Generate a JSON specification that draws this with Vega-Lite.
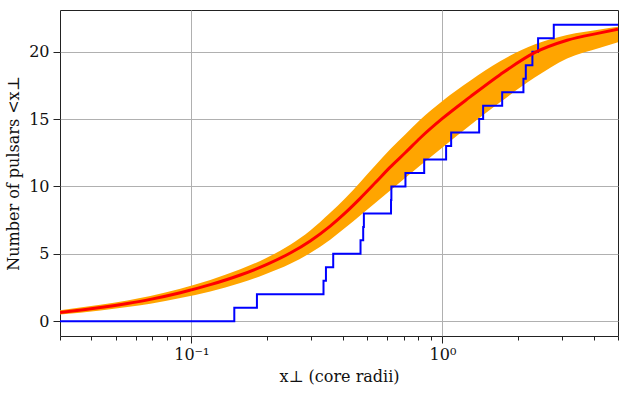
{
  "$schema": "https://vega.github.io/schema/vega-lite/v6.json",
  "width": 558,
  "height": 326,
  "autosize": "none",
  "padding": {"left": 60, "top": 10, "right": 10, "bottom": 57},
  "background": "white",
  "config": {
    "view": {"stroke": "#222", "strokeWidth": 1},
    "font": "DejaVu Serif",
    "axis": {
      "labelFont": "DejaVu Serif",
      "titleFont": "DejaVu Serif",
      "labelFontSize": 16,
      "titleFontSize": 16,
      "titleFontWeight": "normal",
      "labelColor": "#111",
      "titleColor": "#111",
      "domain": false,
      "tickColor": "#222",
      "gridColor": "#b0b0b0",
      "gridWidth": 1
    }
  },
  "datasets": {
    "curve": [
      {"x": 0.03, "lo": 0.5, "mid": 0.65, "hi": 0.82},
      {"x": 0.04343, "lo": 0.8, "mid": 1.02, "hi": 1.22},
      {"x": 0.05564, "lo": 1.05, "mid": 1.32, "hi": 1.54},
      {"x": 0.06867, "lo": 1.29, "mid": 1.62, "hi": 1.87},
      {"x": 0.09042, "lo": 1.73, "mid": 2.11, "hi": 2.41},
      {"x": 0.119, "lo": 2.21, "mid": 2.71, "hi": 3.06},
      {"x": 0.1567, "lo": 2.83, "mid": 3.43, "hi": 3.85},
      {"x": 0.197, "lo": 3.48, "mid": 4.16, "hi": 4.66},
      {"x": 0.2477, "lo": 4.26, "mid": 5.06, "hi": 5.68},
      {"x": 0.2976, "lo": 5.06, "mid": 5.96, "hi": 6.74},
      {"x": 0.3573, "lo": 6.05, "mid": 7.06, "hi": 8.05},
      {"x": 0.4101, "lo": 6.93, "mid": 8.04, "hi": 9.12},
      {"x": 0.4704, "lo": 7.85, "mid": 9.12, "hi": 10.32},
      {"x": 0.5398, "lo": 8.77, "mid": 10.27, "hi": 11.55},
      {"x": 0.6193, "lo": 9.7, "mid": 11.44, "hi": 12.77},
      {"x": 0.7106, "lo": 10.63, "mid": 12.5, "hi": 13.85},
      {"x": 0.8153, "lo": 11.55, "mid": 13.6, "hi": 14.95},
      {"x": 1.0, "lo": 12.9, "mid": 15.05, "hi": 16.35},
      {"x": 1.289, "lo": 14.55, "mid": 16.65, "hi": 17.85},
      {"x": 1.696, "lo": 16.25, "mid": 18.3, "hi": 19.3},
      {"x": 2.338, "lo": 18.1, "mid": 19.95, "hi": 20.55},
      {"x": 3.135, "lo": 19.5, "mid": 20.85, "hi": 21.25},
      {"x": 4.242, "lo": 20.3, "mid": 21.4, "hi": 21.65},
      {"x": 5.0, "lo": 20.7, "mid": 21.67, "hi": 21.85}
    ],
    "steps": [
      {"x": 0.03, "n": 0},
      {"x": 0.1483, "n": 1},
      {"x": 0.1825, "n": 2},
      {"x": 0.336, "n": 3},
      {"x": 0.3436, "n": 4},
      {"x": 0.3673, "n": 5},
      {"x": 0.4718, "n": 6},
      {"x": 0.4835, "n": 7},
      {"x": 0.4865, "n": 8},
      {"x": 0.624, "n": 9},
      {"x": 0.626, "n": 10},
      {"x": 0.7123, "n": 11},
      {"x": 0.8458, "n": 12},
      {"x": 1.034, "n": 13},
      {"x": 1.083, "n": 14},
      {"x": 1.4, "n": 15},
      {"x": 1.452, "n": 16},
      {"x": 1.729, "n": 17},
      {"x": 2.101, "n": 18},
      {"x": 2.147, "n": 19},
      {"x": 2.281, "n": 20},
      {"x": 2.403, "n": 21},
      {"x": 2.775, "n": 22},
      {"x": 5.0, "n": 22}
    ]
  },
  "layer": [
    {
      "data": {"name": "curve"},
      "mark": {"type": "area", "color": "#FFA500", "interpolate": "monotone", "clip": true},
      "encoding": {
        "x": {
          "field": "x", "type": "quantitative",
          "scale": {"type": "log", "domain": [0.03, 5], "nice": false},
          "axis": {
            "title": "x⊥ (core radii)",
            "titlePadding": 6,
            "values": [0.03, 0.04, 0.05, 0.06, 0.07, 0.08, 0.09, 0.1, 0.2, 0.3, 0.4, 0.5, 0.6, 0.7, 0.8, 0.9, 1, 2, 3, 4, 5],
            "labelExpr": "datum.value == 0.1 ? '10⁻¹' : (datum.value == 1 ? '10⁰' : '')",
            "labelPadding": 3,
            "tickSize": {"condition": {"test": "datum.value == 0.1 || datum.value == 1", "value": 7}, "value": 4},
            "gridOpacity": {"condition": {"test": "datum.value == 0.1 || datum.value == 1", "value": 1}, "value": 0},
            "labelFlush": false,
            "labelOverlap": false
          }
        },
        "y": {
          "field": "lo", "type": "quantitative",
          "scale": {"domain": [-1.1, 23.1], "nice": false, "zero": false},
          "axis": {
            "title": "Number of pulsars  <x⊥",
            "values": [0, 5, 10, 15, 20],
            "tickSize": 7,
            "labelPadding": 4,
            "titlePadding": 7
          }
        },
        "y2": {"field": "hi"}
      }
    },
    {
      "data": {"name": "steps"},
      "mark": {"type": "line", "color": "#0000FF", "strokeWidth": 2, "interpolate": "step-after", "clip": true},
      "encoding": {
        "x": {"field": "x", "type": "quantitative"},
        "y": {"field": "n", "type": "quantitative"}
      }
    },
    {
      "data": {"name": "curve"},
      "mark": {"type": "line", "color": "#FF0000", "strokeWidth": 3, "interpolate": "monotone", "clip": true},
      "encoding": {
        "x": {"field": "x", "type": "quantitative"},
        "y": {"field": "mid", "type": "quantitative"}
      }
    }
  ]
}
